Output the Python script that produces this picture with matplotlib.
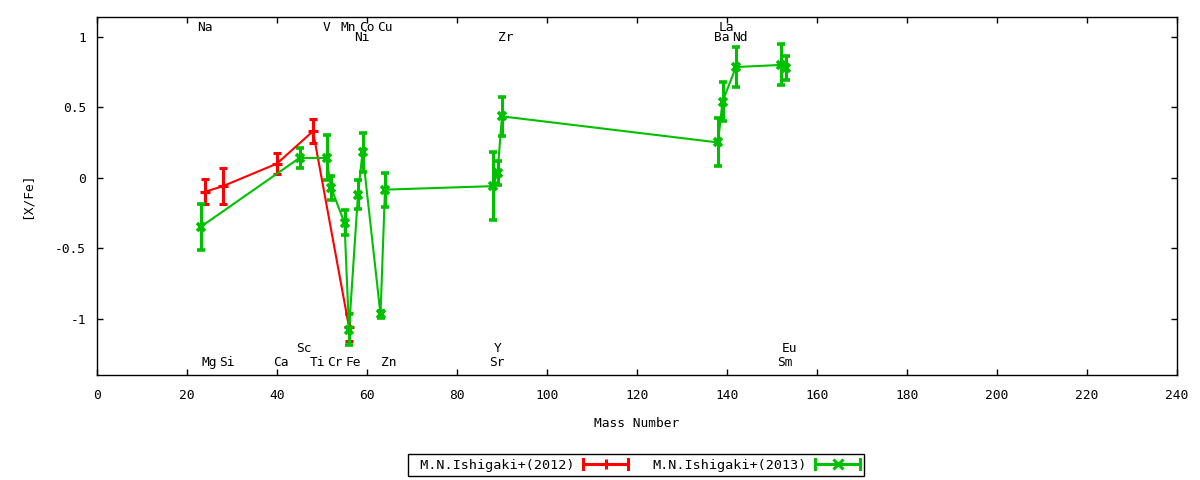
import matplotlib
matplotlib.use('Agg')
import matplotlib.pyplot as plt
from matplotlib.lines import Line2D
from matplotlib.legend_handler import HandlerBase
from matplotlib.ticker import FuncFormatter

plt.rcParams['font.family'] = ['DejaVu Sans Mono']
plt.rcParams['font.size'] = 9.3
plt.rcParams['axes.unicode_minus'] = False

# M.N.Ishigaki+(2012)
mass_2012 = [24, 28, 40, 48, 56]
xfe_2012 = [-0.10, -0.06, 0.10, 0.33, -1.06]
err_2012 = [0.09, 0.13, 0.075, 0.085, 0.10]

# M.N.Ishigaki+(2013)
mass_2013 = [23, 45, 51, 52, 55, 56, 58, 59, 63, 64, 88, 89, 90, 138, 139, 142, 152, 153]
xfe_2013 = [-0.35, 0.14, 0.14, -0.07, -0.32, -1.08, -0.12, 0.18, -0.97, -0.085,
            -0.06, 0.035, 0.435, 0.25, 0.54, 0.785, 0.80, 0.775]
err_2013 = [0.16, 0.07, 0.16, 0.085, 0.09, 0.11, 0.10, 0.14, 0.025, 0.12,
            0.24, 0.085, 0.14, 0.17, 0.14, 0.145, 0.145, 0.085]

# element labels: name, mass, y position
elem_names = ['Na', 'V', 'Mn', 'Co', 'Cu', 'Ni', 'Zr', 'La', 'Ba', 'Nd',
              'Mg', 'Si', 'Ca', 'Sc', 'Ti', 'Cr', 'Fe', 'Zn', 'Sr', 'Y', 'Sm', 'Eu']
elem_mass = [23, 51, 55, 59, 63, 58, 90, 139, 138, 142,
             24, 28, 40, 45, 48, 52, 56, 64, 88, 89, 152, 153]
elem_y = [1.067, 1.067, 1.067, 1.067, 1.067, 0.996, 0.996, 1.067, 0.996, 0.996,
          -1.31, -1.31, -1.31, -1.215, -1.31, -1.31, -1.31, -1.31, -1.31, -1.215, -1.31, -1.215]

RED = '#ff0000'
GREEN = '#00c000'


class ErrHandler(HandlerBase):
    def create_artists(self, legend, orig, xd, yd, width, height, fontsize, trans):
        c = orig.get_color()
        m = orig.get_marker()
        y = height / 2 - yd
        x0, x1 = -xd, -xd + width
        art = [Line2D([x0, x1], [y, y], color=c, lw=2.2),
               Line2D([x0, x0], [y - 3.5, y + 3.5], color=c, lw=2.2),
               Line2D([x1, x1], [y - 3.5, y + 3.5], color=c, lw=2.2),
               Line2D([(x0 + x1) / 2], [y], color=c, marker=m, ms=7, mew=2.2, ls='none')]
        for a in art:
            a.set_transform(trans)
        return art


fig = plt.figure(figsize=(12, 4.8), dpi=100)
ax = fig.add_axes([97 / 1200, 1 - 375 / 480, 1080 / 1200, 358 / 480])

ax.errorbar(mass_2012, xfe_2012, yerr=err_2012, color=RED, lw=1.5, marker='+', ms=7, mew=2.2,
            elinewidth=2.2, capsize=3, capthick=2.2)
ax.errorbar(mass_2013, xfe_2013, yerr=err_2013, color=GREEN, lw=1.5, marker='x', ms=6, mew=2.6,
            elinewidth=2.2, capsize=3, capthick=2.2)

for name, m, y in zip(elem_names, elem_mass, elem_y):
    ax.text(m - 0.8, y, name, ha='left', va='center')

ax.set_xlim(0, 240)
ax.set_ylim(-1.4, 1.14)
ax.set_xticks(range(0, 241, 20))
ax.set_yticks([-1, -0.5, 0, 0.5, 1])
ax.yaxis.set_major_formatter(FuncFormatter(lambda v, p: '%g' % v))
ax.tick_params(direction='in', top=True, right=True, length=4.5, width=1, pad=10)
ax.tick_params(axis='y', pad=8)
for s in ax.spines.values():
    s.set_linewidth(1)

ax.set_xlabel('Mass Number', labelpad=11)
ax.set_ylabel('[X/Fe]', labelpad=15)

h1 = Line2D([], [], color=RED, marker='+')
h2 = Line2D([], [], color=GREEN, marker='x')
leg = fig.legend([h1, h2], [' M.N.Ishigaki+(2012)', 'M.N.Ishigaki+(2013)'],
                 handler_map={h1: ErrHandler(), h2: ErrHandler()},
                 loc='center', bbox_to_anchor=(636 / 1200, 1 - 465 / 480), ncol=2,
                 fontsize=9.7, markerfirst=False, handlelength=3.3, handletextpad=0.65,
                 columnspacing=1.8, borderpad=0.3, fancybox=False, framealpha=1,
                 edgecolor='black')
leg.get_frame().set_linewidth(1)

fig.savefig('out.png', dpi=100)
